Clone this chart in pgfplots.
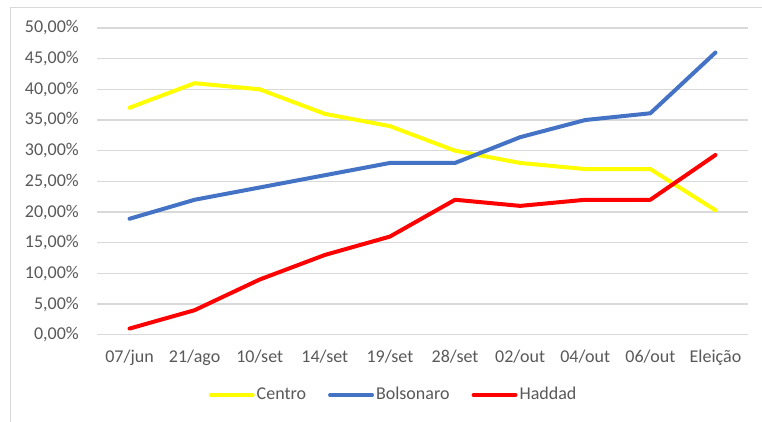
\documentclass[border=0pt]{standalone}
\usepackage{pgfplots}
\pgfplotsset{compat=1.18}
\usepackage{fontspec}
\setmainfont{Carlito}
\definecolor{tickgray}{HTML}{595959}
\definecolor{gridgray}{HTML}{D9D9D9}
\definecolor{frame}{HTML}{D9D9D9}
\definecolor{cyellow}{HTML}{FFFF00}
\definecolor{cblue}{HTML}{4472C4}
\definecolor{cred}{HTML}{FF0000}
\begin{document}
\fontsize{18bp}{22bp}\selectfont
\begin{tikzpicture}[x=1bp,y=1bp]
\useasboundingbox (0,0) rectangle (762,421);
\fill[white] (0,0) rectangle (762,421);
\draw[frame, line width=1.2bp] (10.5,-5) -- (10.5,413.5) -- (770,413.5);
\begin{axis}[
  at={(97bp,86.3bp)}, anchor=south west,
  scale only axis, width=651bp, height=306.7bp,
  xmin=-0.5, xmax=9.5, ymin=0, ymax=50,
  axis line style={draw=none},
  major tick length=0pt,
  xtick={0,...,9},
  xticklabels={07/jun,21/ago,10/set,14/set,19/set,28/set,02/out,04/out,06/out,Eleição},
  ytick={0,5,...,50},
  yticklabels={{0,00\%},{5,00\%},{10,00\%},{15,00\%},{20,00\%},{25,00\%},{30,00\%},{35,00\%},{40,00\%},{45,00\%},{50,00\%}},
  ymajorgrids,
  grid style={gridgray, line width=1.2bp},
  tick label style={text=tickgray, font=\fontsize{18bp}{22bp}\selectfont, inner sep=0pt},
  yticklabel style={anchor=east, xshift=-18bp},
  xticklabel style={anchor=north, yshift=-15bp},
  legend columns=3,
  legend style={at={(0.4555,-0.1966)}, anchor=center, draw=none, fill=none,
    font=\fontsize{18bp}{22bp}\selectfont, text=tickgray,
    /tikz/every even column/.append style={column sep=20bp},
    inner sep=0pt},
  legend image code/.code={\draw[#1, line width=4bp, line cap=round] (0bp,0bp) -- (42bp,0bp);},
  every axis plot/.append style={line width=4bp, line join=round, line cap=round},
  clip=false,
]
\addplot[cyellow] coordinates {(0,37) (1,41) (2,40) (3,36) (4,34) (5,30) (6,28) (7,27) (8,27) (9,20.3)};
\addlegendentry{Centro}
\addplot[cblue] coordinates {(0,18.9) (1,22) (2,24) (3,26) (4,28) (5,28) (6,32.2) (7,35) (8,36.1) (9,46)};
\addlegendentry{Bolsonaro}
\addplot[cred] coordinates {(0,1) (1,4) (2,9) (3,13) (4,16) (5,22) (6,21) (7,22) (8,22) (9,29.3)};
\addlegendentry{Haddad}
\end{axis}
\end{tikzpicture}
\end{document}
